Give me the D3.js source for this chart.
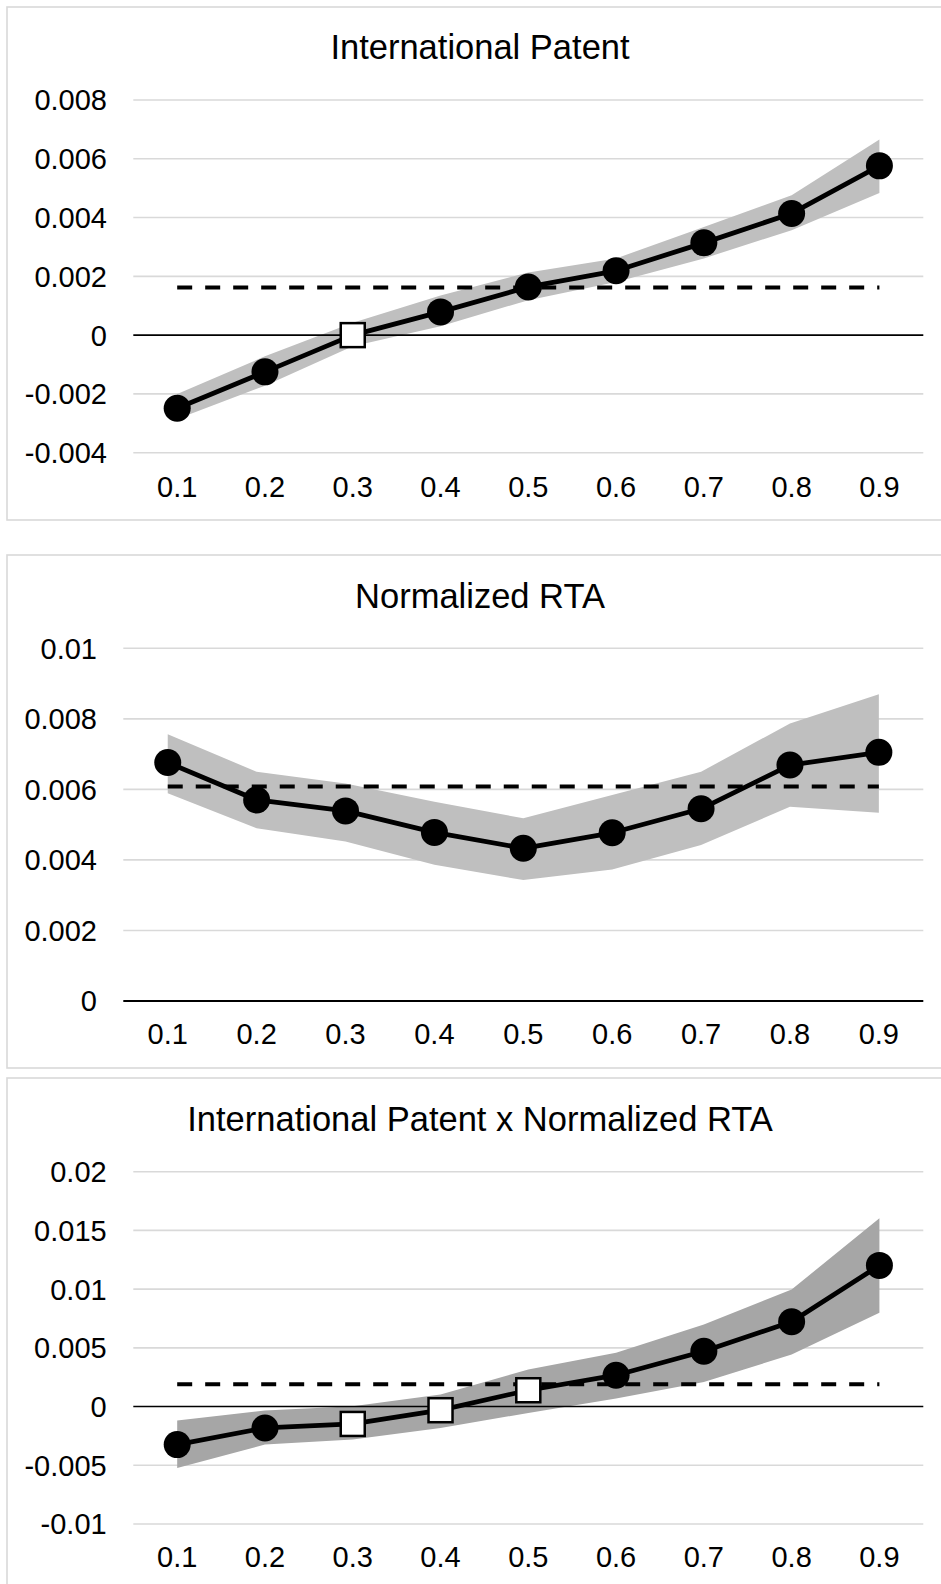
<!DOCTYPE html>
<html>
<head>
<meta charset="utf-8">
<script src="https://cdn.jsdelivr.net/npm/d3@7/dist/d3.min.js"></script>
<style>
  html, body { margin: 0; padding: 0; background: #fff; }
  svg { display: block; }
  text { font-family: "Liberation Sans", Arial, sans-serif; fill: #000; }
</style>
</head>
<body>
<svg id="chart" width="941" height="1584"></svg>
<script>
// ---- Data ----
const quantiles = ["0.1", "0.2", "0.3", "0.4", "0.5", "0.6", "0.7", "0.8", "0.9"];

// Panel 1: International Patent
const patentCoef = [-0.00249, -0.00125, 0.0000, 0.00079, 0.00164, 0.00219, 0.00314, 0.00414, 0.00576];
const patentLo   = [-0.00285, -0.00172, -0.00038, 0.00030, 0.00119, 0.00181, 0.00261, 0.00357, 0.00484];
const patentHi   = [-0.00200, -0.00072, 0.00042, 0.00135, 0.00213, 0.00261, 0.00368, 0.00476, 0.00666];
const patentSig  = [true, true, false, true, true, true, true, true, true];
const patentOLS  = 0.00162;
const patentTicks = [-0.004, -0.002, 0, 0.002, 0.004, 0.006, 0.008];
const patentTickLabels = ["-0.004", "-0.002", "0", "0.002", "0.004", "0.006", "0.008"];

// Panel 2: Normalized RTA
const rtaCoef = [0.00676, 0.00570, 0.00539, 0.00478, 0.00433, 0.00477, 0.00545, 0.00669, 0.00705];
const rtaLo   = [0.00589, 0.00490, 0.00452, 0.00386, 0.00343, 0.00373, 0.00442, 0.00551, 0.00534];
const rtaHi   = [0.00756, 0.00650, 0.00617, 0.00565, 0.00518, 0.00584, 0.00650, 0.00787, 0.00870];
const rtaSig  = [true, true, true, true, true, true, true, true, true];
const rtaOLS  = 0.00608;
const rtaTicks = [0, 0.002, 0.004, 0.006, 0.008, 0.01];
const rtaTickLabels = ["0", "0.002", "0.004", "0.006", "0.008", "0.01"];

// Panel 3: International Patent x Normalized RTA
const interCoef = [-0.00324, -0.00182, -0.00148, -0.00031, 0.00139, 0.00267, 0.00471, 0.00722, 0.01202];
const interLo   = [-0.00523, -0.00324, -0.00281, -0.00182, -0.00054, 0.00068, 0.00210, 0.00443, 0.00799];
const interHi   = [-0.00119, -0.00034, 0.00003, 0.00102, 0.00315, 0.00458, 0.00699, 0.00997, 0.01603];
const interSig  = [true, true, false, false, false, true, true, true, true];
const interOLS  = 0.0019;
const interTicks = [-0.01, -0.005, 0, 0.005, 0.01, 0.015, 0.02];
const interTickLabels = ["-0.01", "-0.005", "0", "0.005", "0.01", "0.015", "0.02"];

// ---- Layout ----
const panels = [
  { title: "International Patent", coef: patentCoef, lo: patentLo, hi: patentHi, sig: patentSig, ols: patentOLS,
    ticks: patentTicks, labels: patentTickLabels,
    box: [7, 7, 960, 513], x0: 133.3, x1: 923.3, yTop: 100, yBot: 452.7, titleY: 59.3, xLabY: 496.7,
    labRight: 107, band: "#bfbfbf", zeroW: 1.6 },
  { title: "Normalized RTA", coef: rtaCoef, lo: rtaLo, hi: rtaHi, sig: rtaSig, ols: rtaOLS,
    ticks: rtaTicks, labels: rtaTickLabels,
    box: [7, 555, 960, 513], x0: 123.3, x1: 923.3, yTop: 648.3, yBot: 1001, titleY: 608.3, xLabY: 1044,
    labRight: 97, band: "#bfbfbf", zeroW: 2.2 },
  { title: "International Patent x Normalized RTA", coef: interCoef, lo: interLo, hi: interHi, sig: interSig, ols: interOLS,
    ticks: interTicks, labels: interTickLabels,
    box: [7, 1078, 960, 530], x0: 133.3, x1: 923.3, yTop: 1171.7, yBot: 1524, titleY: 1130.7, xLabY: 1567,
    labRight: 106.7, band: "#a6a6a6", zeroW: 1.6 }
];

const svg = d3.select("#chart");

panels.forEach(p => {
  const g = svg.append("g");
  const [bx, by, bw, bh] = p.box;
  g.append("rect").attr("x", bx).attr("y", by).attr("width", bw).attr("height", bh)
    .attr("fill", "#fff").attr("stroke", "#d9d9d9").attr("stroke-width", 1.6);

  const x = d3.scalePoint().domain(quantiles).range([p.x0, p.x1]).padding(0.5);
  const y = d3.scaleLinear().domain([p.ticks[0], p.ticks[p.ticks.length - 1]]).range([p.yBot, p.yTop]);

  // gridlines
  g.selectAll(".grid").data(p.ticks.filter(t => t !== 0)).enter().append("line")
    .attr("x1", p.x0).attr("x2", p.x1)
    .attr("y1", d => y(d)).attr("y2", d => y(d))
    .attr("stroke", "#d9d9d9").attr("stroke-width", 1.6);

  // y labels
  g.selectAll(".ylab").data(p.ticks).enter().append("text")
    .attr("x", p.labRight).attr("y", d => y(d))
    .attr("dy", "0.36em").attr("text-anchor", "end")
    .style("font-size", "29px")
    .text((d, i) => p.labels[i]);

  // x labels
  g.selectAll(".xlab").data(quantiles).enter().append("text")
    .attr("x", d => x(d)).attr("y", p.xLabY)
    .attr("text-anchor", "middle").style("font-size", "29px")
    .text(d => d);

  // title
  g.append("text").attr("x", 480).attr("y", p.titleY).attr("text-anchor", "middle")
    .style("font-size", "34.5px").text(p.title);

  // confidence band
  const area = d3.area().x((d, i) => x(quantiles[i])).y0((d, i) => y(p.lo[i])).y1((d, i) => y(p.hi[i]));
  g.append("path").datum(p.coef).attr("d", area).attr("fill", p.band);

  // zero line
  g.append("line").attr("x1", p.x0).attr("x2", p.x1).attr("y1", y(0)).attr("y2", y(0))
    .attr("stroke", "#000").attr("stroke-width", p.zeroW);

  // OLS dashed line
  g.append("line").attr("x1", x(quantiles[0])).attr("x2", x(quantiles[quantiles.length - 1]))
    .attr("y1", y(p.ols)).attr("y2", y(p.ols))
    .attr("stroke", "#000").attr("stroke-width", 4).attr("stroke-dasharray", "15,13");

  // coefficient line
  const line = d3.line().x((d, i) => x(quantiles[i])).y(d => y(d));
  g.append("path").datum(p.coef).attr("d", line).attr("fill", "none")
    .attr("stroke", "#000").attr("stroke-width", 4.8).attr("stroke-linejoin", "round");

  // markers
  p.coef.forEach((v, i) => {
    if (p.sig[i]) {
      g.append("circle").attr("cx", x(quantiles[i])).attr("cy", y(v)).attr("r", 13.5).attr("fill", "#000");
    } else {
      g.append("rect").attr("x", x(quantiles[i]) - 12).attr("y", y(v) - 12)
        .attr("width", 24).attr("height", 24)
        .attr("fill", "#fff").attr("stroke", "#000").attr("stroke-width", 2.5);
    }
  });
});
</script>
</body>
</html>
